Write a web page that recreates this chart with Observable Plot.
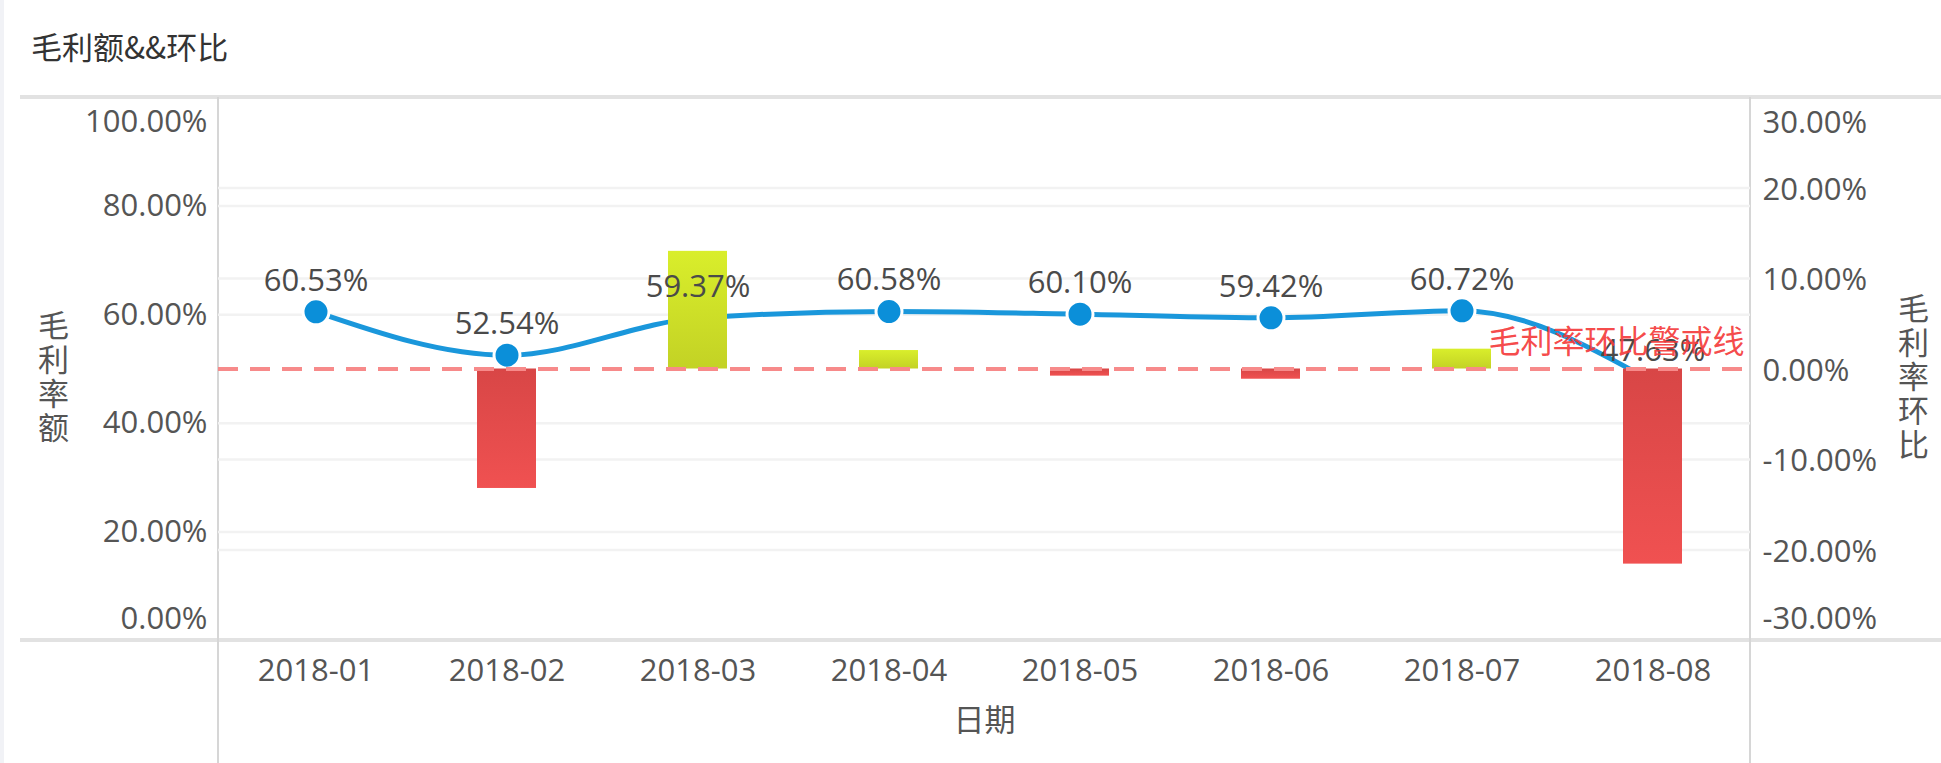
<!DOCTYPE html>
<html>
<head>
<meta charset="utf-8">
<script src="https://cdn.jsdelivr.net/npm/d3@7"></script>
<script src="https://cdn.jsdelivr.net/npm/@observablehq/plot@0.6"></script>
<style>
  body { margin: 0; background: #fff; }
  #wrap { position: relative; width: 1941px; height: 763px; overflow: hidden; background: #fff; }
  .ln { position: absolute; pointer-events: none; }
  #title { position: absolute; left: 31px; top: 26px; font-size: 31px; line-height: 40px; color: #333;
           font-family: "Noto Sans CJK SC", "Open Sans", sans-serif; white-space: nowrap; }
  #chart { position: absolute; left: 0; top: 0; }
</style>
</head>
<body>
<div id="wrap">
  <div class="ln" style="left:0;top:0;width:4px;height:763px;background:#f1f2f6;"></div>
  <div class="ln" style="left:20px;top:95px;width:1921px;height:4px;background:#e2e2e2;"></div>
  <div class="ln" style="left:20px;top:638px;width:1921px;height:4px;background:#e2e2e2;"></div>
  <div class="ln" style="left:217px;top:97px;width:2px;height:666px;background:#d6d6d6;"></div>
  <div class="ln" style="left:1749px;top:97px;width:2px;height:666px;background:#d6d6d6;"></div>
  <div id="chart"></div>
  <div id="title">毛利额&amp;&amp;环比</div>
</div>
<script>
// ---- data ----
const months = ["2018-01", "2018-02", "2018-03", "2018-04", "2018-05", "2018-06", "2018-07", "2018-08"];
const grossMarginRate = [60.53, 52.54, 59.37, 60.58, 60.10, 59.42, 60.72, 47.63];   // left axis, %
const momChange = [null, -13.20, 13.00, 2.04, -0.79, -1.13, 2.19, -21.56];          // right axis, %
const leftTicks = [0, 20, 40, 60, 80, 100];
const rightTicks = [-30, -20, -10, 0, 10, 20, 30];
const warnLevel = [0];
const warnLabel = ["毛利率环比警戒线"];
const leftTitle = ["毛\n利\n率\n额"];
const rightTitle = ["毛\n利\n率\n环\n比"];
const xTitle = ["日期"];

// right axis (-30..30) mapped onto left axis domain (0..100)
const toLeft = v => 50 + v * 100 / 60;
const fromLeft = d => (d - 50) * 60 / 100;

const rows = months.map((m, i) => ({month: m, rate: grossMarginRate[i], change: momChange[i]}));
const barsUp = rows.filter(d => d.change != null && d.change >= 0);
const barsDown = rows.filter(d => d.change != null && d.change < 0);

const fmt = v => v.toFixed(2) + "%";
const FONT = "'Open Sans', 'Noto Sans CJK SC', sans-serif";
const FS = 31;
const GRAY = "#555";

const leftMid = leftTicks.slice(1, -1);
const rightMid = rightTicks.slice(1, -1);

const svg = Plot.plot({
  width: 1941,
  height: 763,
  marginTop: 97,
  marginBottom: 123,
  marginLeft: 218,
  marginRight: 191,
  style: {background: "transparent", fontFamily: FONT, fontSize: FS + "px", color: GRAY},
  x: {type: "band", domain: months, padding: 0, axis: null},
  y: {domain: [0, 100], axis: null},
  marks: [
    // grid lines (left then right)
    Plot.gridY(leftMid, {stroke: "#f2f2f2", strokeOpacity: 1, strokeWidth: 2.5}),
    Plot.gridY(rightMid.filter(v => v !== 0).map(toLeft), {stroke: "#f2f2f2", strokeOpacity: 1, strokeWidth: 2.5}),

    // left axis
    Plot.axisY(leftMid, {anchor: "left", tickSize: 0, tickPadding: 11, tickFormat: fmt, fontSize: FS, color: GRAY, label: null}),
    Plot.axisY(leftTicks.slice(-1), {anchor: "left", tickSize: 0, tickPadding: 11, tickFormat: fmt, fontSize: FS, color: GRAY, label: null, dy: 25}),
    Plot.axisY(leftTicks.slice(0, 1), {anchor: "left", tickSize: 0, tickPadding: 11, tickFormat: fmt, fontSize: FS, color: GRAY, label: null, dy: -21}),

    // right axis
    Plot.axisY(rightMid.map(toLeft), {anchor: "right", tickSize: 0, tickPadding: 12, tickFormat: d => fmt(fromLeft(d)), fontSize: FS, color: GRAY, label: null, dy: 2}),
    Plot.axisY(rightTicks.slice(-1).map(toLeft), {anchor: "right", tickSize: 0, tickPadding: 12, tickFormat: d => fmt(fromLeft(d)), fontSize: FS, color: GRAY, label: null, dy: 26}),
    Plot.axisY(rightTicks.slice(0, 1).map(toLeft), {anchor: "right", tickSize: 0, tickPadding: 12, tickFormat: d => fmt(fromLeft(d)), fontSize: FS, color: GRAY, label: null, dy: -21}),

    // x axis
    Plot.axisX(months, {anchor: "bottom", tickSize: 0, tickPadding: 18, fontSize: FS, color: GRAY, label: null}),

    // axis titles
    Plot.text(leftTitle, {text: d => d, frameAnchor: "left", dx: -165, dy: 8, fontSize: FS, lineHeight: 1.1, fill: GRAY, textAnchor: "middle"}),
    Plot.text(rightTitle, {text: d => d, frameAnchor: "right", dx: 163, dy: 8, fontSize: FS, lineHeight: 1.1, fill: GRAY, textAnchor: "middle"}),
    Plot.text(xTitle, {text: d => d, frameAnchor: "bottom", dy: 90, fontSize: FS, fill: GRAY}),

    // gross margin line + dots
    Plot.line(rows, {x: "month", y: "rate", stroke: "#1a97db", strokeWidth: 5, curve: "monotone-x"}),
    Plot.dot(rows, {x: "month", y: "rate", r: 13, fill: "#0b8fd9", stroke: "#fff", strokeWidth: 3}),

    // month-on-month bars
    Plot.barY(barsUp, {x: "month", y1: () => toLeft(0), y2: d => toLeft(d.change), fill: "url(#gUp)", insetLeft: 66, insetRight: 66}),
    Plot.barY(barsDown, {x: "month", y1: () => toLeft(0), y2: d => toLeft(d.change), fill: "url(#gDown)", insetLeft: 66, insetRight: 66}),

    // warning line
    Plot.ruleY(warnLevel.map(toLeft), {stroke: "#f78a8a", strokeWidth: 4, strokeDasharray: "20,12"}),

    // value labels
    Plot.text(rows, {x: "month", y: "rate", text: d => fmt(d.rate), dy: -31, fontSize: FS, fill: "#4a4a4a"}),

    // warning label
    Plot.text(warnLabel, {text: d => d, frameAnchor: "right", y: () => toLeft(warnLevel[0]), dx: -6, dy: -26,
      textAnchor: "end", fontSize: 32, fill: "#f43a3a", fillOpacity: 0.92,
      fontFamily: "'Noto Sans CJK SC', sans-serif"})
  ]
});

const defs = d3.select(svg).insert("defs", ":first-child");
const gUp = defs.append("linearGradient").attr("id", "gUp").attr("x1", 0).attr("y1", 0).attr("x2", 0).attr("y2", 1);
gUp.append("stop").attr("offset", "0%").attr("stop-color", "#d9ee2b");
gUp.append("stop").attr("offset", "100%").attr("stop-color", "#c3d225");
const gDown = defs.append("linearGradient").attr("id", "gDown").attr("x1", 0).attr("y1", 0).attr("x2", 0).attr("y2", 1);
gDown.append("stop").attr("offset", "0%").attr("stop-color", "#d84646");
gDown.append("stop").attr("offset", "100%").attr("stop-color", "#f05151");

document.getElementById("chart").appendChild(svg);
</script>
</body>
</html>
